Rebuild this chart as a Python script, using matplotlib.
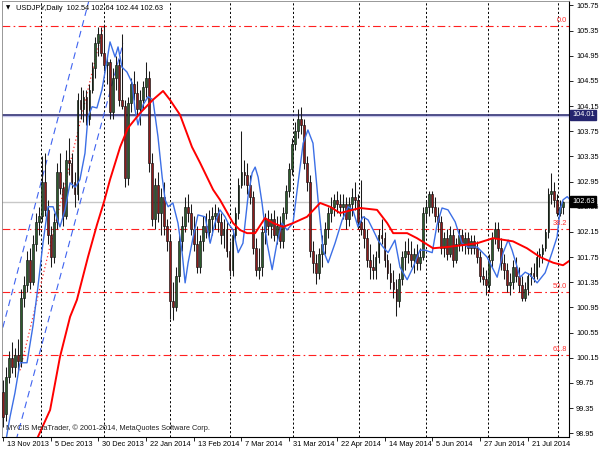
import matplotlib
matplotlib.use("Agg")
import matplotlib.pyplot as plt
from matplotlib.patches import Rectangle

# ---------------- data ----------------
opens = [99.60, 99.25, 99.85, 100.15, 100.00, 100.20, 100.10, 101.10, 101.30, 101.70,
         101.35, 101.95, 102.30, 102.40, 102.95, 102.50, 102.10, 101.75, 102.30, 103.10,
         102.85, 102.40, 103.30, 103.25, 102.95, 102.75, 104.25, 104.10, 104.30, 103.95,
         104.40, 104.75, 105.15, 105.30, 105.00, 104.80, 104.85, 104.05, 104.60, 104.80,
         104.25, 104.15, 103.00, 104.20, 104.50, 104.35, 104.10, 104.25, 104.45, 104.60,
         103.25, 102.35, 102.90, 102.45, 102.70, 102.25, 102.00, 101.05, 100.95, 101.45,
         102.00, 102.25, 102.55, 102.45, 102.20, 101.95, 101.60, 102.00, 102.25, 102.15,
         102.35, 102.40, 102.45, 102.30, 102.10, 102.20, 101.85, 101.55, 102.10, 102.45,
         102.90, 103.10, 103.05, 102.90, 102.70, 101.90, 101.55, 101.60, 102.15, 102.35,
         102.25, 102.35, 102.10, 102.25, 102.00, 102.45, 102.80, 103.15, 103.55, 103.75,
         103.95, 103.85, 103.25, 102.95, 101.85, 101.65, 101.50, 101.80, 101.95, 102.20,
         102.45, 102.55, 102.65, 102.60, 102.55, 102.60, 102.35, 102.60, 102.70, 102.65,
         102.30, 102.20, 102.05, 101.70, 101.60, 101.55, 101.75, 102.10, 102.05, 101.70,
         101.50, 101.35, 101.25, 101.05, 101.40, 101.75, 101.85, 101.80, 101.70, 101.80,
         101.65, 101.75, 102.45, 102.55, 102.75, 102.55, 102.40, 102.30, 101.90, 102.05,
         101.80, 102.10, 101.70, 101.95, 102.10, 101.95, 102.05, 101.90, 102.00, 101.90,
         101.75, 101.45, 101.40, 101.30, 101.70, 102.05, 102.20, 101.90, 101.65, 101.55,
         101.30, 101.35, 101.60, 101.45, 101.30, 101.10, 101.25, 101.45, 101.50, 101.45,
         101.75, 101.80, 101.90, 102.15, 102.75, 102.80, 102.65, 102.45, 102.54]
highs = [99.80, 100.00, 100.25, 100.40, 100.30, 100.45, 101.25, 101.45, 101.85, 101.90,
         102.10, 102.45, 102.55, 103.35, 103.40, 102.65, 102.25, 102.45, 103.25, 103.40,
         102.95, 103.45, 103.65, 103.40, 103.10, 104.35, 104.45, 104.40, 104.40, 104.50,
         104.85, 105.25, 105.40, 105.40, 105.44, 104.95, 104.90, 104.75, 104.95, 104.90,
         105.30, 104.25, 104.30, 104.60, 104.70, 104.55, 104.40, 104.55, 104.85, 104.70,
         103.40, 103.00, 103.10, 102.85, 102.95, 102.35, 102.10, 101.35, 101.60, 102.10,
         102.40, 102.70, 102.75, 102.60, 102.40, 102.25, 102.10, 102.40, 102.45, 102.50,
         102.55, 102.60, 102.55, 102.45, 102.35, 102.30, 102.00, 102.20, 102.55, 103.00,
         103.76, 103.30, 103.25, 103.05, 102.80, 102.05, 101.90, 102.25, 102.45, 102.50,
         102.45, 102.50, 102.40, 102.40, 102.55, 102.90, 103.25, 103.65, 103.90, 104.10,
         104.13, 103.95, 103.35, 103.05, 102.00, 101.80, 101.90, 102.10, 102.30, 102.55,
         102.70, 102.75, 102.80, 102.75, 102.75, 102.70, 102.70, 102.85, 102.95, 102.75,
         102.97, 102.40, 102.20, 101.95, 101.80, 101.85, 102.20, 102.35, 102.15, 101.80,
         101.65, 101.55, 101.40, 101.50, 101.85, 102.00, 102.05, 102.00, 101.90, 101.95,
         101.90, 102.55, 102.65, 102.80, 102.80, 102.70, 102.55, 102.40, 102.15, 102.20,
         102.25, 102.20, 102.05, 102.20, 102.20, 102.15, 102.15, 102.10, 102.10, 102.00,
         101.85, 101.60, 101.55, 101.80, 102.15, 102.30, 102.30, 102.05, 101.80, 101.65,
         101.50, 101.70, 101.75, 101.60, 101.45, 101.35, 101.50, 101.60, 101.65, 101.85,
         101.90, 101.95, 102.20, 102.85, 103.08, 102.95, 102.75, 102.65, 102.64]
lows = [99.05, 99.15, 99.75, 99.90, 99.85, 99.95, 100.00, 100.95, 101.20, 101.25,
        101.30, 101.85, 102.10, 102.30, 102.40, 101.95, 101.60, 101.65, 102.20, 102.75,
        102.25, 102.35, 103.05, 102.85, 102.55, 102.65, 103.95, 103.90, 103.85, 103.85,
        104.35, 104.60, 104.95, 104.95, 104.70, 104.50, 103.95, 103.95, 104.40, 104.15,
        104.10, 102.86, 102.90, 104.05, 104.25, 104.00, 103.85, 104.10, 104.30, 103.10,
        102.25, 102.20, 102.30, 102.10, 102.10, 101.85, 100.76, 100.75, 100.90, 101.35,
        101.85, 102.15, 102.30, 102.10, 101.85, 101.50, 101.50, 101.85, 102.05, 102.00,
        102.10, 102.20, 102.15, 101.95, 101.90, 101.75, 101.45, 101.45, 102.00, 102.35,
        102.85, 102.90, 102.75, 102.60, 101.80, 101.45, 101.40, 101.45, 101.95, 102.10,
        102.05, 102.00, 101.95, 101.90, 101.90, 102.35, 102.70, 103.05, 103.45, 103.65,
        103.70, 103.15, 102.80, 101.75, 101.50, 101.32, 101.40, 101.60, 101.80, 102.05,
        102.30, 102.40, 102.45, 102.40, 102.35, 102.20, 102.25, 102.40, 102.50, 102.20,
        102.10, 101.90, 101.60, 101.40, 101.40, 101.40, 101.65, 101.95, 101.60, 101.40,
        101.25, 101.10, 100.82, 100.95, 101.30, 101.55, 101.65, 101.60, 101.50, 101.55,
        101.55, 101.70, 102.30, 102.40, 102.45, 102.30, 102.15, 101.80, 101.75, 101.70,
        101.75, 101.60, 101.65, 101.85, 101.85, 101.80, 101.80, 101.80, 101.80, 101.65,
        101.35, 101.30, 101.15, 101.20, 101.60, 101.95, 101.85, 101.55, 101.40, 101.20,
        101.15, 101.25, 101.35, 101.20, 101.05, 101.05, 101.15, 101.30, 101.35, 101.40,
        101.60, 101.65, 101.85, 102.05, 102.60, 102.55, 102.40, 102.40, 102.44]
closes = [99.20, 99.85, 100.15, 100.00, 100.20, 100.10, 101.10, 101.30, 101.70, 101.35,
          101.95, 102.30, 102.40, 102.95, 102.50, 102.10, 101.75, 102.30, 103.10, 102.85,
          102.40, 103.30, 103.25, 102.95, 102.75, 104.25, 104.10, 104.30, 103.95, 104.40,
          104.75, 105.15, 105.30, 105.00, 104.80, 104.85, 104.05, 104.60, 104.80, 104.25,
          104.15, 103.00, 104.20, 104.50, 104.35, 104.10, 104.25, 104.45, 104.60, 103.25,
          102.35, 102.90, 102.45, 102.70, 102.25, 102.00, 101.05, 100.95, 101.45, 102.00,
          102.25, 102.55, 102.45, 102.20, 101.95, 101.60, 102.00, 102.25, 102.15, 102.35,
          102.40, 102.45, 102.30, 102.10, 102.20, 101.85, 101.55, 102.10, 102.45, 102.90,
          103.10, 103.05, 102.90, 102.70, 101.90, 101.55, 101.60, 102.15, 102.35, 102.25,
          102.35, 102.10, 102.25, 102.00, 102.45, 102.80, 103.15, 103.55, 103.75, 103.95,
          103.85, 103.25, 102.95, 101.85, 101.65, 101.50, 101.80, 101.95, 102.20, 102.45,
          102.55, 102.65, 102.60, 102.55, 102.60, 102.35, 102.60, 102.70, 102.65, 102.30,
          102.20, 102.05, 101.70, 101.60, 101.55, 101.75, 102.10, 102.05, 101.70, 101.50,
          101.35, 101.25, 101.05, 101.40, 101.75, 101.85, 101.80, 101.70, 101.80, 101.65,
          101.75, 102.45, 102.55, 102.75, 102.55, 102.40, 102.30, 101.90, 102.05, 101.80,
          102.10, 101.70, 101.95, 102.10, 101.95, 102.05, 101.90, 102.00, 101.90, 101.75,
          101.45, 101.40, 101.30, 101.70, 102.05, 102.20, 101.90, 101.65, 101.55, 101.30,
          101.35, 101.60, 101.45, 101.30, 101.10, 101.25, 101.45, 101.50, 101.45, 101.75,
          101.80, 101.90, 102.15, 102.75, 102.80, 102.65, 102.45, 102.55, 102.63]

# moving averages (bar index, price)
blue_ma_idx = [1.0, 2.35, 4.0, 5.7, 8.05, 10.1, 11.7, 13.4, 15.1, 16.8, 19.1, 20.8, 22.5, 24.2,
               25.8, 27.5, 28.5, 29.9, 31.5, 33.2, 34.9, 35.9, 37.6, 38.6, 39.9, 41.6, 43.3,
               44.3, 45.3, 47.0, 48.7, 50.3, 52.0, 53.4, 54.4, 55.4, 57.0, 58.7, 60.1, 61.1,
               62.1, 63.8, 65.4, 67.8, 69.5, 71.1, 72.8, 74.5, 75.5, 77.2, 78.9, 80.5, 82.2,
               83.6, 84.6, 85.6, 86.9, 88.6, 90.3, 91.9, 93.6, 95.3, 97.3, 99.0, 100.7, 102.3,
               104.0, 105.7, 107.4, 109.1, 111.4, 113.8, 115.8, 117.4, 119.1, 120.8, 122.5,
               124.2, 125.8, 127.5, 129.2, 131.5, 133.2, 135.6, 137.6, 139.9, 141.6, 144.0,
               145.6, 147.3, 149.3, 151.7, 154.0, 156.0, 159.1, 162.4, 165.8, 167.8, 169.5,
               170.8, 172.5, 173.5, 175.2, 176.8, 179.2, 181.9, 184.2, 185.9, 186.9, 187.9,
               189.3, 190.3]
blue_ma = [98.84, 99.21, 99.59, 100.07, 100.07, 100.67, 101.27, 101.97, 102.55, 102.55, 102.23,
           102.50, 102.93, 102.86, 102.98, 103.40, 103.98, 104.14, 104.12, 104.41, 104.88,
           105.17, 104.93, 105.09, 104.77, 104.69, 104.52, 104.09, 103.85, 104.17, 104.30,
           104.25, 103.66, 103.02, 102.66, 102.55, 102.61, 102.29, 101.82, 101.34, 101.66,
           102.07, 102.42, 102.39, 101.97, 102.29, 102.50, 102.39, 102.29, 102.18, 101.82,
           101.97, 102.71, 103.09, 103.18, 103.02, 102.61, 101.97, 101.55, 101.97, 102.29,
           102.18, 102.29, 102.93, 103.56, 103.77, 103.56, 102.66, 101.86, 101.66, 101.97,
           102.34, 102.55, 102.50, 102.23, 102.39, 102.34, 102.18, 102.02, 101.91, 101.82,
           102.02, 101.59, 101.39, 101.59, 101.86, 101.86, 101.82, 102.26, 102.53, 102.50,
           102.31, 101.97, 101.91, 101.91, 101.75, 101.43, 101.82, 102.02, 101.86, 101.59,
           101.43, 101.51, 101.47, 101.34, 101.50, 101.82, 102.07, 102.50, 102.66, 102.71,
           102.66]
red_ma_idx = [10.4, 11.7, 15.8, 19.1, 22.5, 24.8, 28.5, 31.5, 33.9, 35.9, 39.3, 41.9, 46.0,
              50.3, 53.7, 56.0, 59.4, 63.4, 66.1, 70.5, 72.8, 77.2, 79.5, 81.9, 84.6, 87.9,
              90.6, 94.0, 97.3, 102.0, 106.4, 109.7, 113.1, 119.8, 125.5, 128.9, 130.9,
              135.6, 138.9, 141.6, 144.3, 149.0, 154.4, 159.1, 164.4, 171.1, 175.8, 180.2,
              184.6, 187.9, 190.3]
red_ma = [98.75, 98.89, 99.32, 100.16, 100.80, 101.07, 101.75, 102.26, 102.63, 102.98, 103.50,
          103.80, 104.04, 104.25, 104.39, 104.25, 104.01, 103.50, 103.25, 102.82, 102.66,
          102.29, 102.18, 102.13, 102.13, 102.37, 102.29, 102.23, 102.29, 102.39, 102.61,
          102.55, 102.45, 102.53, 102.50, 102.29, 102.13, 102.13, 102.05, 101.97, 101.89,
          101.91, 101.94, 101.97, 102.05, 102.00, 101.89, 101.75, 101.66, 101.62, 101.70]

# channel lines (bar index, price)
chan_upper_idx = [-1.0, 28.9]
chan_upper = [100.46, 105.84]
chan_lower_idx = [2.35, 40.3]
chan_lower = [98.48, 105.15]
chan_mid_idx = [5.7, 33.6]
chan_mid = [99.95, 105.41]

# horizontal levels
fib_levels = [105.43, 102.19, 101.19, 100.19]
fib_labels = ["0.0", "38.2", "50.0", "61.8"]
resist_level = 104.01
last_price = 102.63

month_seps = [12.75, 33.9, 56.0, 76.2, 97.3, 119.5, 142.0, 162.8, 186.2]
date_tick_idx = [0, 16, 32, 48, 64, 80, 96, 112, 128, 144, 160, 176]
date_labels = ["13 Nov 2013", "5 Dec 2013", "30 Dec 2013", "22 Jan 2014", "13 Feb 2014",
               "7 Mar 2014", "31 Mar 2014", "22 Apr 2014", "14 May 2014", "5 Jun 2014",
               "27 Jun 2014", "21 Jul 2014"]
price_ticks = [98.95, 99.35, 99.75, 100.15, 100.55, 100.95, 101.35, 101.75, 102.15, 102.55,
               102.95, 103.35, 103.75, 104.15, 104.55, 104.95, 105.35, 105.75]

# ---------------- figure ----------------
FONT = "Liberation Sans"
FS = 5.3
fig = plt.figure(figsize=(6, 4.5), dpi=100)
fig.patch.set_facecolor("white")
ax = fig.add_axes([2 / 600, 1 - 437 / 450, 567 / 600, 436 / 450])
ax.set_facecolor("white")
ax.set_xlim(-0.34, 189.9)
ax.set_ylim(98.89, 105.82)

# month separators
for m in month_seps:
    ax.axvline(m, color="black", lw=0.7, ls=(0, (2.2, 2.2)), zorder=1)

# fibonacci levels
for lv, lb in zip(fib_levels, fib_labels):
    ax.axhline(lv, color="#ff2020", lw=0.8, ls=(0, (7, 3, 1.5, 3)), zorder=1)
    ax.text(0.997, lv + 0.03, lb, transform=ax.get_yaxis_transform(), ha="right",
            va="bottom", color="#ff3030", fontsize=FS, family=FONT, zorder=6)

# current price / resistance lines
ax.axhline(last_price, color="#c8c8c8", lw=1.0, zorder=1)
ax.axhline(resist_level - 0.025, color="#c8c8ec", lw=1.0, zorder=1)
ax.axhline(resist_level, color="#20206a", lw=1.1, zorder=2)

# channel
ax.plot(chan_upper_idx, chan_upper, color="#3f63f0", lw=0.8, ls=(0, (6, 4)), zorder=2)
ax.plot(chan_lower_idx, chan_lower, color="#3f63f0", lw=0.8, ls=(0, (6, 4)), zorder=2)
ax.plot(chan_mid_idx, chan_mid, color="#ff3030", lw=0.9, ls=(0, (1, 2)), zorder=2)

# candles
bw = 0.62
for i, (o, h, l, c) in enumerate(zip(opens, highs, lows, closes)):
    ax.vlines(i, l, h, color="#1a1a1a", lw=0.75, zorder=3)
    bottom = min(o, c)
    height = max(abs(c - o), 0.012)
    fc = "#2d5b2d" if c >= o else "#8e1b1b"
    ax.add_patch(Rectangle((i - bw / 2, bottom), bw, height, facecolor=fc,
                           edgecolor="#111111", lw=0.45, zorder=4))

# moving averages
ax.plot(blue_ma_idx, blue_ma, color="#3c6fe6", lw=1.0, zorder=5)
ax.plot(red_ma_idx, red_ma, color="#ff0000", lw=1.4, zorder=5)

# axes / ticks
for s in ["left", "top"]:
    ax.spines[s].set_color("#888888")
    ax.spines[s].set_linewidth(0.6)
for s in ["right", "bottom"]:
    ax.spines[s].set_color("black")
    ax.spines[s].set_linewidth(0.8)

ax.yaxis.tick_right()
ax.set_yticks(price_ticks)
ax.set_yticklabels([f"{p:.2f}" for p in price_ticks])
ax.tick_params(axis="y", direction="out", length=3, width=0.6, pad=2,
               labelsize=FS, colors="black")
for lbl in ax.get_yticklabels():
    lbl.set_family(FONT)

ax.set_xticks(date_tick_idx)
ax.set_xticklabels([])
ax.tick_params(axis="x", direction="out", length=3, width=0.6)
for idx, lab in zip(date_tick_idx, date_labels):
    ax.annotate(lab, xy=(idx, 0), xycoords=("data", "axes fraction"),
                xytext=(4, -3.5), textcoords="offset pixels", ha="left", va="top",
                fontsize=FS, family=FONT, annotation_clip=False)

# price boxes on the axis
ax.annotate(f"{resist_level:.2f}", xy=(1.0, resist_level), xycoords=("axes fraction", "data"),
            xytext=(3, 0), textcoords="offset pixels", ha="left", va="center",
            fontsize=FS, family=FONT, color="white", zorder=10, annotation_clip=False,
            bbox=dict(boxstyle="square,pad=0.25", fc="#25256e", ec="#25256e"))
ax.annotate(f"{last_price:.2f}", xy=(1.0, last_price), xycoords=("axes fraction", "data"),
            xytext=(3, 0), textcoords="offset pixels", ha="left", va="center",
            fontsize=FS, family=FONT, color="white", zorder=10, annotation_clip=False,
            bbox=dict(boxstyle="square,pad=0.25", fc="black", ec="black"))

# header / footer texts
ax.text(4 / 567, 1 - 7 / 436, "\u25BC", transform=ax.transAxes, ha="left", va="center",
        fontsize=4, family="DejaVu Sans", color="black", zorder=10)
ax.text(14 / 567, 1 - 7 / 436,
        f"USDJPY,Daily  {opens[-1]:.2f} {highs[-1]:.2f} {lows[-1]:.2f} {closes[-1]:.2f}",
        transform=ax.transAxes, ha="left", va="center", fontsize=FS, family=FONT,
        color="black", zorder=10)
ax.text(4 / 567, 1 - 427 / 436, "MYCIS MetaTrader, \u00A9 2001-2014, MetaQuotes Software Corp.",
        transform=ax.transAxes, ha="left", va="center", fontsize=FS, family=FONT,
        color="#222222", zorder=10)

fig.savefig("out.png", dpi=100, facecolor="white")
